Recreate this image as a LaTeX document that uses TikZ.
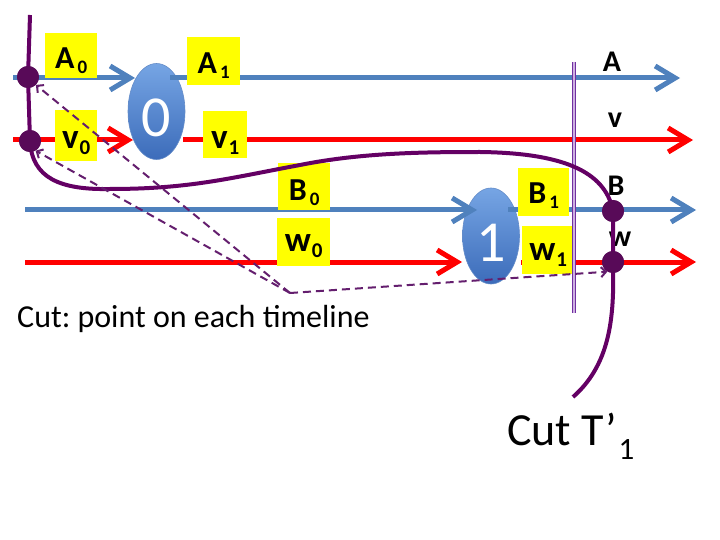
\documentclass[tikz,border=0pt]{standalone}
\usepackage{fontspec}
\setmainfont{Carlito}
\usetikzlibrary{arrows.meta,shapes.geometric}
\definecolor{tlblue}{RGB}{79,129,189}
\definecolor{tlred}{RGB}{255,0,0}
\definecolor{cutpurple}{RGB}{100,0,100}
\definecolor{dotpurple}{RGB}{88,10,88}
\definecolor{dashpurple}{RGB}{100,30,110}
\definecolor{dblpurple}{RGB}{112,48,160}
\definecolor{dblinner}{RGB}{205,175,225}
\definecolor{lblyellow}{RGB}{255,255,0}
\definecolor{evtedge}{RGB}{100,140,200}
\definecolor{evttop}{RGB}{118,165,228}
\definecolor{evtbot}{RGB}{60,108,186}
\newcommand\Clab[2]{{\fontsize{32}{32}\selectfont\bfseries #1}\kern3pt\raisebox{-5pt}{\fontsize{19}{19}\selectfont\bfseries #2}}
\newcommand\Llab[2]{{\fontsize{35}{35}\selectfont\bfseries #1}\kern1pt\raisebox{-6pt}{\fontsize{21}{21}\selectfont\bfseries #2}}
\frenchspacing
\begin{document}
\begin{tikzpicture}[x=1pt,y=-1pt,
  tlb/.style={draw=tlblue, line width=5pt, -{Straight Barb[length=20pt,width=24pt]}},
  tlr/.style={draw=tlred, line width=5pt, -{Straight Barb[length=20pt,width=24pt]}},
  evt/.style={ellipse, minimum width=57pt, minimum height=96pt, inner sep=0pt,
    draw=evtedge, line width=0.6pt, top color=evttop, bottom color=evtbot,
    text=white, font=\fontsize{58}{58}\selectfont, text height=51pt, text depth=0pt},
  lbl/.style={fill=lblyellow, inner sep=0pt, anchor=north west},
  rlab/.style={anchor=base, inner sep=0pt, font=\fontsize{30}{30}\selectfont\bfseries},
  dot/.style={circle, fill=dotpurple, minimum size=22pt, inner sep=0pt},
  cutline/.style={draw=cutpurple, line width=4pt},
  dsh/.style={draw=dashpurple, line width=2pt, dash pattern=on 8pt off 5pt,
    -{Straight Barb[length=5pt,width=10pt]}},
  dbl/.style={draw=dblpurple, double=dblinner, double distance=2.5pt, line width=1pt}]
\useasboundingbox (0,0) rectangle (720,540);
\fill[white] (0,0) rectangle (720,540);

% events
\node[evt] (e0) at (156.5,111.5) {0};
\node[evt] (e1) at (491,236) {1};

% timeline coordinates
\coordinate (aL) at (13,78);  \coordinate (aT) at (135,78);
\coordinate (aM) at (170,78); \coordinate (aR) at (680,78);
\coordinate (vL) at (13,140); \coordinate (vT) at (133,140);
\coordinate (vM) at (183,140); \coordinate (vR) at (693,140);
\coordinate (bL) at (25,210); \coordinate (bT) at (477,210);
\coordinate (bM) at (508,210); \coordinate (bR) at (696,210);
\coordinate (wL) at (25,262); \coordinate (wT) at (462,262);
\coordinate (wM) at (521,262); \coordinate (wR) at (696,262);

\draw[tlb] (aL) -- (aT);
\draw[tlb] (aM) -- (aR);
\draw[tlr] (vL) -- (vT);
\draw[tlr] (vM) -- (vR);
\draw[tlb] (bL) -- (bT);
\draw[tlb] (bM) -- (bR);
\draw[tlr] (wL) -- (wT);
\draw[tlr] (wM) -- (wR);

% labels
\node[lbl, minimum width=52pt, text height=35pt, text depth=10pt] (lA0) at (45,33) {\Clab{A}{0}};
\node[lbl, minimum width=53pt, text height=36pt, text depth=12pt] (lA1) at (187,37) {\Clab{A}{1}};
\node[lbl, minimum width=42pt, text height=38pt, text depth=13pt] (lv0) at (55,110) {\Llab{v}{0}};
\node[lbl, minimum width=44pt, text height=37pt, text depth=10pt] (lv1) at (203,111) {\Llab{v}{1}};
\node[lbl, minimum width=52pt, text height=37pt, text depth=10pt] (lB0) at (278,163) {\Clab{B}{0}};
\node[lbl, minimum width=53pt, text height=33pt, text depth=15pt] (lw0) at (277,218) {\Llab{w}{0}};
\node[lbl, minimum width=51pt, text height=35pt, text depth=13pt] (lB1) at (518,168) {\Clab{B}{1}};
\node[lbl, minimum width=52pt, text height=34pt, text depth=14pt] (lw1) at (522,226) {\Llab{w}{1}};

% right labels
\node[rlab] (rA) at (612,72) {A};
\node[rlab] (rv) at (615,128) {v};
\node[rlab] (rB) at (616,196) {B};
\node[rlab] (rw) at (620,247) {w};

% double vertical line
\coordinate (dbltop) at (574,62);
\coordinate (dblbot) at (574,313);
\draw[dbl] (dbltop) -- (dblbot);

% cut dots
\node[dot] (dA0) at (28,77) {};
\node[dot] (dv0) at (30,141) {};
\node[dot] (dB) at (613,211) {};
\node[dot] (dw) at (613,262) {};

% cut curve
\coordinate (ctop) at (30,15);
\coordinate (cbot) at (573,397);
\draw[cutline] (ctop) -- (dA0.center) -- (dv0.center)
  .. controls (32,178) and (60,190) .. (110,189)
  .. controls (190,189) and (230,178) .. (300,165)
  .. controls (360,153) and (420,152) .. (480,152)
  .. controls (560,153) and (605,170) .. (dB.center)
  -- (dw.center)
  .. controls (614,310) and (613,362) .. (cbot);
\node[dot] at (dA0) {};
\node[dot] at (dv0) {};
\node[dot] at (dB) {};
\node[dot] at (dw) {};

% dashed pointers
\coordinate (P) at (290,293);
\draw[dsh] (P) -- (dA0.-45);
\draw[dsh] (P) -- (dv0.-60);
\draw[dsh] (P) -- (dw.-120);

% texts
\node[anchor=base west, inner sep=0pt, font=\fontsize{32}{32}\selectfont] (cuttxt) at (17,327) {Cut: point on each timeline};
\node[anchor=base west, inner sep=0pt, font=\fontsize{46}{46}\selectfont] (cutT) at (507,445) {Cut T’\kern2pt\raisebox{-14pt}{\fontsize{31}{31}\selectfont 1}};
\end{tikzpicture}
\end{document}
